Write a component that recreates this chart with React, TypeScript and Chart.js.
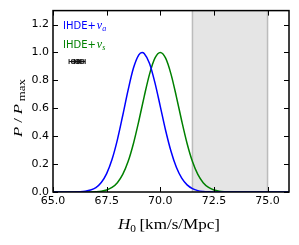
import { useEffect, useRef } from "react";
import Chart from "chart.js/auto";

const X_MIN = 65;
const X_MAX = 76;
const Y_MIN = 0;
const Y_MAX = 1.3;
const X_TICK_STEP = 2.5;
const Y_TICK_STEP = 0.2;
const BAND_RANGE = [71.5, 75.0];

const blueLabel = "a";
const greenLabel = "s";

const blueX = [
  65.0, 65.25, 65.5, 65.75, 66.0, 66.25, 66.5, 66.75, 67.0, 67.25, 67.5, 67.75,
  68.0, 68.25, 68.5, 68.75, 69.0, 69.15, 69.25, 69.5, 69.75, 70.0, 70.25, 70.5,
  70.75, 71.0, 71.25, 71.5, 71.75, 72.0, 72.25, 72.5, 72.75, 73.0, 73.25, 73.5,
  73.75, 74.0, 74.25, 74.5, 74.75, 75.0, 75.25, 75.5, 75.75, 76.0,
];
const blueY = [
  0, 0, 0.0001, 0.0002, 0.0006, 0.0019, 0.0054, 0.0138, 0.032, 0.068, 0.132, 0.233,
  0.374, 0.548, 0.73, 0.888, 0.983, 1.0, 0.993, 0.921, 0.784, 0.614, 0.441, 0.292,
  0.177, 0.099, 0.051, 0.024, 0.01, 0.004, 0.0015, 0.0005, 0.0002, 0, 0, 0,
  0, 0, 0, 0, 0, 0, 0, 0, 0, 0,
];

const greenX = [
  65.0, 65.25, 65.5, 65.75, 66.0, 66.25, 66.5, 66.75, 67.0, 67.25, 67.5, 67.75,
  68.0, 68.25, 68.5, 68.75, 69.0, 69.25, 69.5, 69.75, 70.0, 70.25, 70.5, 70.75,
  71.0, 71.25, 71.5, 71.75, 72.0, 72.25, 72.5, 72.75, 73.0, 73.25, 73.5, 73.75,
  74.0, 74.25, 74.5, 74.75, 75.0, 75.25, 75.5, 75.75, 76.0,
];
const greenY = [
  0, 0, 0, 0, 0, 0.0001, 0.0003, 0.0008, 0.0023, 0.006, 0.0146, 0.0326,
  0.0669, 0.126, 0.218, 0.348, 0.509, 0.684, 0.845, 0.959, 1.0, 0.959, 0.845, 0.684,
  0.509, 0.348, 0.218, 0.126, 0.0669, 0.0326, 0.0146, 0.006, 0.0023, 0.0008, 0.0003, 0.0001,
  0, 0, 0, 0, 0, 0, 0, 0, 0,
];

const markerX = [65.95, 66.15, 66.35];
const markerY = [0.935, 0.935, 0.935];
const markerErr = [0.2, 0.15, 0.15];

type Seg = { t: string; font: string; dy?: number; gap?: number };

function drawSegs(ctx: CanvasRenderingContext2D, segs: Seg[], targetW?: number) {
  const widths = segs.map((s) => {
    ctx.font = s.font;
    return ctx.measureText(s.t).width + (s.gap || 0);
  });
  const total = widths.reduce((a, b) => a + b, 0);
  const sc = targetW ? targetW / total : 1;
  ctx.save();
  ctx.scale(sc, 1);
  let cx = 0;
  segs.forEach((s, i) => {
    ctx.font = s.font;
    ctx.textAlign = "left";
    ctx.textBaseline = "alphabetic";
    ctx.fillText(s.t, cx + (s.gap || 0), s.dy || 0);
    cx += widths[i];
  });
  ctx.restore();
}

const decor = {
  id: "decor",
  beforeDatasetsDraw(chart: any) {
    const { ctx, chartArea, scales } = chart;
    const { top, bottom } = chartArea;
    const x1 = scales.x.getPixelForValue(BAND_RANGE[0]);
    const x2 = scales.x.getPixelForValue(BAND_RANGE[1]);
    ctx.save();
    ctx.fillStyle = "#e5e5e5";
    ctx.fillRect(x1, top, x2 - x1, bottom - top);
    ctx.strokeStyle = "#bcbcbc";
    ctx.lineWidth = 1.5;
    ctx.beginPath();
    ctx.moveTo(x1, top);
    ctx.lineTo(x1, bottom);
    ctx.moveTo(x2, top);
    ctx.lineTo(x2, bottom);
    ctx.stroke();
    ctx.restore();
  },
  afterDraw(chart: any) {
    const { ctx, chartArea, scales } = chart;
    const { left, right, top, bottom } = chartArea;
    ctx.save();
    ctx.strokeStyle = "#000";
    ctx.lineWidth = 1;
    const tl = 5;
    ctx.beginPath();
    scales.x.ticks.forEach((t: any) => {
      const px = Math.round(scales.x.getPixelForValue(t.value)) + 0.5;
      ctx.moveTo(px, bottom);
      ctx.lineTo(px, bottom - tl);
      ctx.moveTo(px, top);
      ctx.lineTo(px, top + tl);
    });
    scales.y.ticks.forEach((t: any) => {
      const py = Math.round(scales.y.getPixelForValue(t.value)) + 0.5;
      ctx.moveTo(left, py);
      ctx.lineTo(left + tl, py);
      ctx.moveTo(right, py);
      ctx.lineTo(right - tl, py);
    });
    ctx.stroke();
    ctx.lineWidth = 1.5;
    ctx.strokeRect(left, top, right - left, bottom - top);

    const legends = [
      { color: "#0000ff", sub: blueLabel, dy: 18 },
      { color: "#008000", sub: greenLabel, dy: 37 },
    ];
    legends.forEach((l) => {
      ctx.save();
      ctx.fillStyle = l.color;
      ctx.translate(left + 10, top + l.dy);
      drawSegs(ctx, [
        { t: "IHDE+", font: '10px "DejaVu Sans"' },
        { t: "\u03bd", font: 'italic 12px "Liberation Serif"', gap: 1 },
        { t: l.sub, font: 'italic 8px "Liberation Serif"', dy: 2.5 },
      ]);
      ctx.restore();
    });

    ctx.fillStyle = "#000";
    ctx.save();
    ctx.translate(118, 229);
    drawSegs(
      ctx,
      [
        { t: "H", font: 'italic 15px "Liberation Serif"' },
        { t: "0", font: '10px "Liberation Serif"', dy: 3 },
        { t: "[km/s/Mpc]", font: '15px "Liberation Serif"', gap: 3 },
      ],
      102
    );
    ctx.restore();

    ctx.save();
    ctx.translate(22, 137);
    ctx.rotate(-Math.PI / 2);
    drawSegs(
      ctx,
      [
        { t: "P", font: 'italic 13px "Liberation Serif"' },
        { t: "/", font: '13px "Liberation Serif"', gap: 3 },
        { t: "P", font: 'italic 13px "Liberation Serif"', gap: 3 },
        { t: "max", font: '10px "Liberation Serif"', dy: 3, gap: 2 },
      ],
      58
    );
    ctx.restore();
    ctx.restore();
  },
};

export default function App() {
  const ref = useRef<HTMLCanvasElement | null>(null);
  useEffect(() => {
    if (!ref.current) return;
    const markerSets: any[] = markerX.map((mx, i) => ({
      type: "line",
      data: [
        { x: mx - markerErr[i], y: markerY[i] },
        { x: mx + markerErr[i], y: markerY[i] },
      ],
      borderColor: "#111",
      borderWidth: 1,
      pointStyle: "line",
      rotation: 90,
      pointRadius: 2.5,
      pointBorderWidth: 1,
      pointBorderColor: "#111",
      fill: false,
    }));
    const chart = new Chart(ref.current, {
      type: "line",
      data: {
        datasets: [
          {
            data: blueX.map((x, i) => ({ x, y: blueY[i] })),
            borderColor: "#0000ff",
            borderWidth: 1.5,
            pointRadius: 0,
            cubicInterpolationMode: "monotone",
            fill: false,
          },
          {
            data: greenX.map((x, i) => ({ x, y: greenY[i] })),
            borderColor: "#008000",
            borderWidth: 1.5,
            pointRadius: 0,
            cubicInterpolationMode: "monotone",
            fill: false,
          },
          ...markerSets,
          {
            type: "scatter",
            data: markerX.map((x, i) => ({ x, y: markerY[i] })),
            pointStyle: "rect",
            pointRadius: 2.5,
            borderColor: "#111",
            backgroundColor: "rgba(0,0,0,0.2)",
            pointBorderWidth: 1,
            showLine: false,
          } as any,
        ],
      } as any,
      options: {
        animation: false,
        responsive: false,
        devicePixelRatio: 1,
        layout: { padding: { top: 10, right: 10, left: 0, bottom: 0 } },
        plugins: { legend: { display: false }, tooltip: { enabled: false } },
        scales: {
          x: {
            type: "linear",
            min: X_MIN,
            max: X_MAX,
            afterFit: (s: any) => {
              s.height = 53;
            },
            ticks: {
              stepSize: X_TICK_STEP,
              includeBounds: false,
              autoSkip: false,
              maxRotation: 0,
              padding: 3,
              color: "#000",
              font: { family: '"DejaVu Sans"', size: 11 },
              callback: (v: any) => Number(v).toFixed(1),
            },
            grid: { display: false, drawTicks: false },
            border: { display: false },
          },
          y: {
            type: "linear",
            min: Y_MIN,
            max: Y_MAX,
            afterFit: (s: any) => {
              s.width = 53;
            },
            ticks: {
              stepSize: Y_TICK_STEP,
              includeBounds: false,
              autoSkip: false,
              padding: 4,
              color: "#000",
              font: { family: '"DejaVu Sans"', size: 11 },
              callback: (v: any) => Number(v).toFixed(1),
            },
            grid: { display: false, drawTicks: false },
            border: { display: false },
          },
        },
      } as any,
      plugins: [decor],
    });
    return () => chart.destroy();
  }, []);
  return (
    <div style={{ position: "fixed", left: 0, top: 0, width: 299, height: 245, background: "#fff" }}>
      <canvas ref={ref} width={299} height={245} style={{ display: "block" }} />
    </div>
  );
}
